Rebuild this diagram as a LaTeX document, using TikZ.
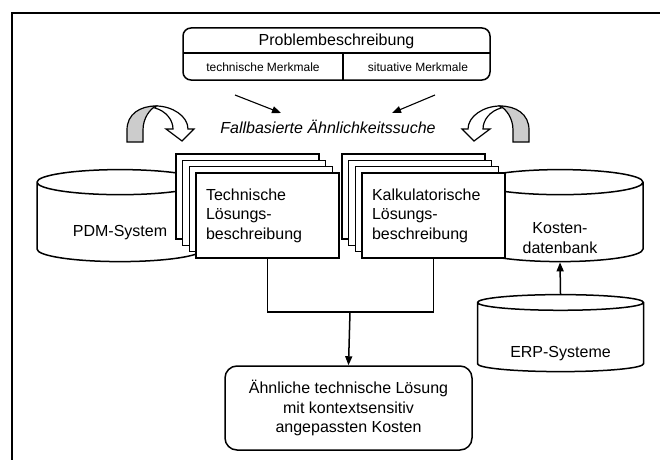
\documentclass[tikz,border=0pt]{standalone}
\usepackage{fontspec}
\setmainfont{Liberation Sans}
\usepackage{tikz}
\usetikzlibrary{positioning,arrows.meta,calc,shapes.geometric}

\tikzset{
  box/.style={draw, line width=1.5pt, fill=white},
  page/.style={box, minimum width=143, minimum height=85, inner sep=0pt},
  pagetext/.style={box, minimum width=143, minimum height=85, text width=123, inner xsep=10pt, align=left, font=\fontsize{16}{19.5}\selectfont},
  db/.style={box, cylinder, shape border rotate=90, aspect=0.16, minimum width=166, minimum height=92, text width=150, text height=20},
  dblabel/.style={align=center, font=\fontsize{16}{19.5}\selectfont},
  roundbox/.style={box, rounded corners=12pt, align=center, font=\fontsize{16}{19.5}\selectfont},
  link/.style={line width=1.5pt},
  tip/.style={-{Triangle[length=9pt,width=7pt]}},
  turn arrow/.pic={
    \fill[gray!40] (-33,0) -- (-33,-12) .. controls (-33,-28) and (-20,-36) .. (-4,-36)
      .. controls (-10,-33) and (-17,-24) .. (-17,-12) -- (-17,0) -- cycle;
    \draw[line width=1.2pt] (-33,0) -- (-33,-12) .. controls (-33,-28) and (-20,-36) .. (-4,-36)
      .. controls (-10,-33) and (-17,-24) .. (-17,-12) -- (-17,0) -- cycle;
    \draw[line width=1.2pt, fill=white] (-4,-36) .. controls (12,-36) and (28,-26) .. (28,-13)
      -- (34,-13) -- (22,-1) -- (6,-13) -- (13,-13) .. controls (13,-22) and (6,-31) .. (-5,-34) -- cycle;
  }
}

\begin{document}
\begin{tikzpicture}[x=1pt, y=-1pt]
    \useasboundingbox (0,0) rectangle (660,460);
    \draw[line width=2.5pt] (660,13) -- (12,13) -- (12,460);

    % problem description
    \node[box, rounded corners=8pt, minimum width=307, minimum height=52] (prob) at (336.5,54) {};
    \draw[link] (183,53) -- (490,53);
    \draw[link] (343,53) -- (343,80);
    \node[font=\fontsize{16}{19.5}\selectfont] (probtitle) at (336.5,41) {Problembeschreibung};
    \node[font=\fontsize{12}{14}\selectfont] (techmm) at (263,67.5) {technische Merkmale};
    \node[font=\fontsize{12}{14}\selectfont] (situmm) at (418,67.5) {situative Merkmale};

    % search
    \node[font=\fontsize{16}{19.5}\selectfont\itshape] (search) at (328,127) {Fallbasierte Ähnlichkeitssuche};
    \coordinate (techend) at (235,95);
    \coordinate (situend) at (435,95);
    \draw[link, line width=1.1pt, tip] (techend) -- (281,113);
    \draw[link, line width=1.1pt, tip] (situend) -- (392,113);

    \pic at (160,142) {turn arrow};
    \pic[xscale=-1] at (496,142) {turn arrow};

    % data bases
    \node[db] (pdm) at (120,224) {};
    \node[dblabel] (pdmtext) at ($(pdm.center)+(0,9)$) {PDM-System};
    \node[db] (kosten) at (560,224) {};
    \node[dblabel] (kostentext) at ($(kosten.center)+(0,14)$) {Kosten-\\datenbank};
    \node[db, minimum height=77, aspect=0.1] (erp) at (560.5,338.5) {};
    \node[dblabel] (erptext) at ($(erp.center)+(0,15)$) {ERP-Systeme};
    \draw[link, tip] (erp.north) -- (kosten.south);

    % solution descriptions
    \coordinate (techpos) at (267.5,215.5);
    \coordinate (kalkpos) at (433.5,215.5);
    \foreach \i in {3,2,1} {
      \node[page] at ($(techpos)+(-6.7*\i,-6.3*\i)$) {};
      \node[page] at ($(kalkpos)+(-6.7*\i,-6.3*\i)$) {};
    }
    \node[pagetext] (tech) at (techpos) {Technische\\Lösungs-\\beschreibung};
    \node[pagetext] (kalk) at (kalkpos) {Kalkulatorische\\Lösungs-\\beschreibung};

    % result
    \node[roundbox, minimum width=247, minimum height=84] (result) at (348.5,408)
      {Ähnliche technische Lösung\\mit kontextsensitiv\\angepassten Kosten};
    \coordinate (join) at (350,312);
    \draw[link] (tech.south) |- (join) -| (kalk.south);
    \draw[link, tip] (join) -- (result.north);
\end{tikzpicture}
\end{document}
